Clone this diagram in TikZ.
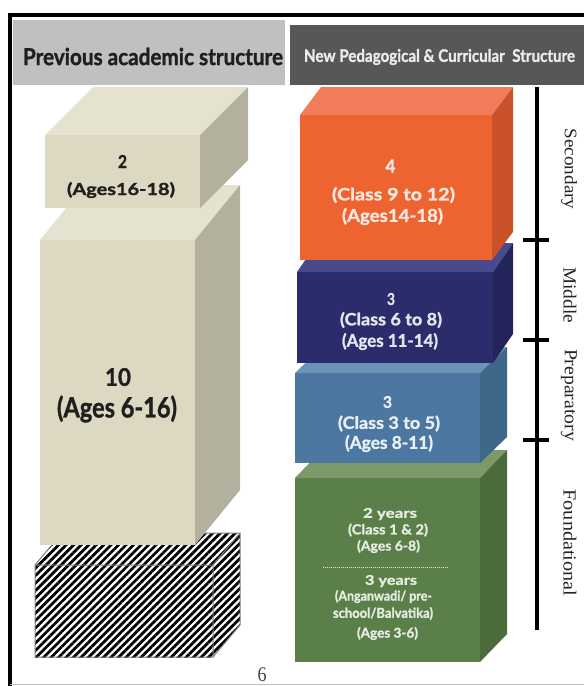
\documentclass[tikz,border=0pt]{standalone}
\usepackage{fontspec}
\setmainfont{Lato}[BoldFeatures={FakeBold=1.3}]
\newfontfamily\serifft{Liberation Serif}
\usepackage{graphicx}
\usetikzlibrary{patterns.meta}
\definecolor{hdrlight}{HTML}{C0C0C0}
\definecolor{hdrdark}{HTML}{575757}
\definecolor{bgfront}{HTML}{DCD8C2}
\definecolor{bgtop}{HTML}{E5E2D0}
\definecolor{bgside}{HTML}{B3B19E}
\definecolor{orfront}{HTML}{EE6431}
\definecolor{ortop}{HTML}{F27C5A}
\definecolor{orside}{HTML}{C9522B}
\definecolor{nvfront}{HTML}{2A2C6B}
\definecolor{nvtop}{HTML}{474A8C}
\definecolor{nvside}{HTML}{22245A}
\definecolor{stfront}{HTML}{4B77A0}
\definecolor{sttop}{HTML}{6C93B5}
\definecolor{stside}{HTML}{3E6789}
\definecolor{grfront}{HTML}{5B7F48}
\definecolor{grtop}{HTML}{7C9968}
\definecolor{grside}{HTML}{4C6B3B}
\newcommand\fitline[3]{\resizebox*{#1pt}{#2pt}{#3}}
\newcommand\cuboid[9]{%
  \fill[#7] (#1,#2) rectangle (#3,#4);
  \fill[#8] (#1,#2) -- (#1+#5,#2-#6) -- (#3+#5,#2-#6) -- (#3,#2) -- cycle;
  \fill[#9] (#3,#2) -- (#3+#5,#2-#6) -- (#3+#5,#4-#6) -- (#3,#4) -- cycle;}
\tikzset{
  lbl/.style={inner sep=0pt, font=\bfseries},
  dlbl/.style={lbl, text=black!88},
  hatch/.style={pattern={Lines[angle=45,distance=5.3pt,line width=2.8pt]}, pattern color=black},
  vlbl/.style={inner sep=0pt, font=\serifft, text=black!85, rotate=-90},
  axis/.style={line width=3.5pt, black},
  tick/.style={line width=4pt, black}
}
\begin{document}
\begin{tikzpicture}[x=1pt,y=-1pt]
\useasboundingbox (0,0) rectangle (584,686);
\clip (0,0) rectangle (584,686);
\fill[white] (0,0) rectangle (584,686);
% frame
\draw[line width=3.5pt] (10,700) -- (10,15) -- (600,15);
\draw[black!25, line width=0.8pt] (10,684) -- (600,684);
% headers
\fill[hdrlight] (13,20) rectangle (285,85);
\fill[hdrdark] (290,25) rectangle (600,85);
\node[dlbl] (hprev) at (153,56.5) {\fitline{260}{17.5}{Previous academic structure}};
\node[lbl, text=white!92!black] (hnew) at (439.5,57) {\fitline{271}{16}{New Pedagogical \& Curricular\ \ Structure}};
% left column
\fill[white] (35,565) rectangle (213,657);
\cuboid{35}{565}{213}{657}{27}{32}{hatch}{hatch}{hatch}
\draw[black!50, line width=1pt] (35,565) rectangle (213,657)
  (35,565) -- (62,533) -- (240,533) -- (213,565)
  (240,533) -- (240,625) -- (213,657);
\cuboid{40}{240}{195}{545}{45}{55}{bgfront}{bgtop}{bgside}
\cuboid{45}{135}{200}{208}{48}{48}{bgfront}{bgtop}{bgside}
\node[dlbl] (ltwo) at (122.5,161.5) {\fitline{9}{13}{2}};
\node[dlbl] (ltwoa) at (121,190) {\fitline{108}{16}{(Ages16-18)}};
\node[dlbl] (lten) at (118,377) {\fitline{26}{18}{10}};
\node[dlbl] (ltena) at (117,409) {\fitline{120}{27}{(Ages 6-16)}};
\node[inner sep=0pt, font=\serifft, text=black!75] (pnum) at (262,675) {\fitline{9}{14}{6}};
% right column (bottom up)
\cuboid{295}{478}{480}{662}{27}{28}{grfront}{grtop}{grside}
\cuboid{295}{373}{480}{463}{27}{26}{stfront}{sttop}{stside}
\cuboid{297}{272}{493}{363}{20}{29}{nvfront}{nvtop}{nvside}
\cuboid{300}{115}{492}{260}{21}{28}{orfront}{ortop}{orside}
% orange texts
\node[lbl, text=white!85!orfront] (o1) at (390.5,166) {\fitline{10}{13}{4}};
\node[lbl, text=white!85!orfront] (o2) at (393.5,195) {\fitline{123}{16}{(Class 9 to 12)}};
\node[lbl, text=white!85!orfront] (o3) at (392.5,216.5) {\fitline{101}{17}{(Ages14-18)}};
% navy texts
\node[lbl, text=white!88!nvfront] (n1) at (391,299) {\fitline{8}{12}{3}};
\node[lbl, text=white!88!nvfront] (n2) at (391,320) {\fitline{102}{16}{(Class 6 to 8)}};
\node[lbl, text=white!88!nvfront] (n3) at (390,341.5) {\fitline{96}{17}{(Ages 11-14)}};
% steel texts
\node[lbl, text=white!88!stfront] (s1) at (387.5,402) {\fitline{9}{12}{3}};
\node[lbl, text=white!88!stfront] (s2) at (389,423.5) {\fitline{102}{16}{(Class 3 to 5)}};
\node[lbl, text=white!88!stfront] (s3) at (389,443.5) {\fitline{88}{17}{(Ages 8-11)}};
% green texts
\node[lbl, text=white!85!grfront] (g1) at (390,514) {\fitline{54}{12}{2 years}};
\node[lbl, text=white!85!grfront] (g2) at (388,530) {\fitline{80}{13}{(Class 1 \& 2)}};
\node[lbl, text=white!85!grfront] (g3) at (388.5,546.5) {\fitline{63}{13}{(Ages 6-8)}};
\coordinate (dl) at (323,567);
\coordinate (dr) at (448,567);
\draw[white!80!grfront, line width=1pt, dash pattern=on 1pt off 1pt] (dl) -- (dr);
\node[lbl, text=white!85!grfront] (g4) at (391,581) {\fitline{52}{12}{3 years}};
\node[lbl, text=white!85!grfront] (g5) at (383.5,596.5) {\fitline{97}{13}{(Anganwadi/ pre-}};
\node[lbl, text=white!85!grfront] (g6) at (383,613.5) {\fitline{100}{13}{school/Balvatika)}};
\node[lbl, text=white!85!grfront] (g7) at (387.5,633.5) {\fitline{61}{13}{(Ages 3-6)}};
% stage axis
\coordinate (axtop) at (537,87);
\coordinate (axbot) at (537,630);
\draw[axis] (axtop) -- (axbot);
\coordinate (t1) at (537,240);
\coordinate (t2) at (537,340);
\coordinate (t3) at (537,440);
\foreach \t in {t1,t2,t3} \draw[tick] ([xshift=-14pt]\t) -- ([xshift=12pt]\t);
\node[vlbl] (vsec) at (569,169) {\fitline{81}{16}{Secondary}};
\node[vlbl] (vmid) at (570,295) {\fitline{56}{13}{Middle}};
\node[vlbl] (vprep) at (569,395) {\fitline{92}{16}{Preparatory}};
\node[vlbl] (vfound) at (570,543) {\fitline{107}{13}{Foundational}};
\end{tikzpicture}
\end{document}
